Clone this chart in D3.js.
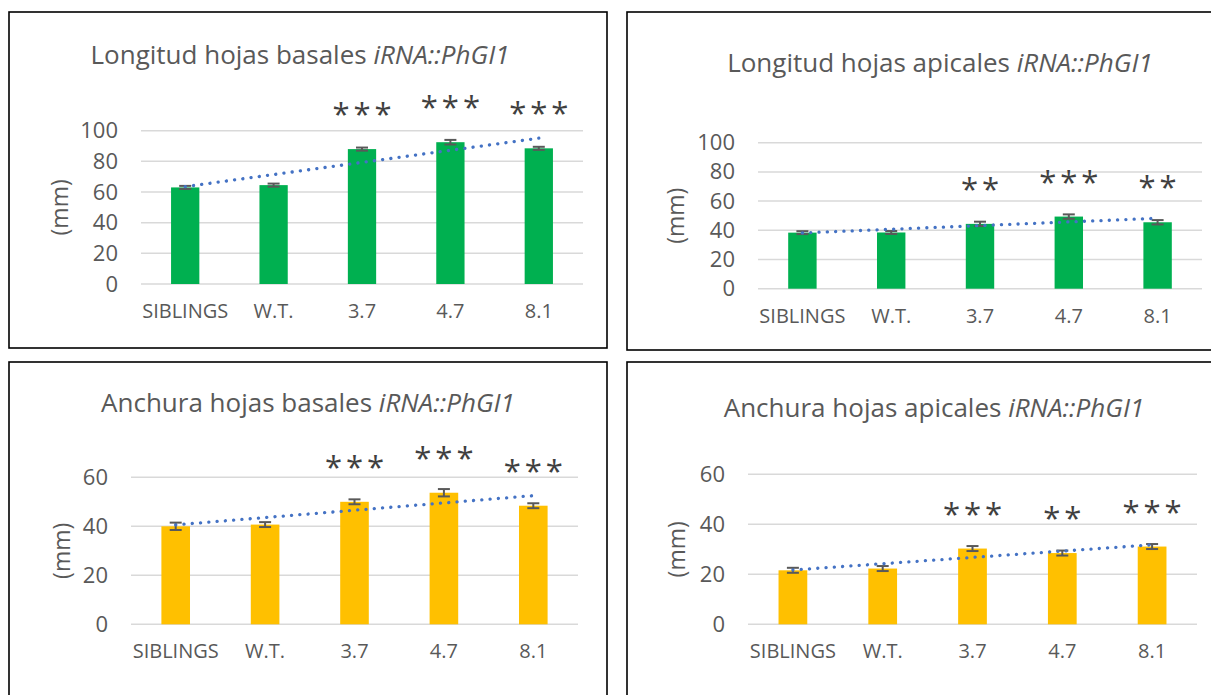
<!DOCTYPE html>
<meta charset="utf-8">
<head>
<style>
body { margin: 0; background: #fff; }
svg { display: block; font-family: "Open Sans", sans-serif; }
</style>
<script src="https://d3js.org/d3.v7.min.js"></script>
</head>
<body>
<div id="chart"></div>
<script>
var width = 1211,
    height = 695;

// data
var categories = ["SIBLINGS", "W.T.", "3.7", "4.7", "8.1"];

var longBasal = [63, 64.5, 88, 92.5, 88.5];
var longBasalErr = [1, 1, 1, 1.5, 1];
var longBasalStars = ["", "", "***", "***", "***"];

var longApical = [38.4, 38.5, 44.4, 49.4, 45.5];
var longApicalErr = [1, 1, 1.5, 1.5, 1.5];
var longApicalStars = ["", "", "**", "***", "**"];

var anchBasal = [40, 40.7, 50, 53.7, 48.4];
var anchBasalErr = [1.5, 1, 1, 1.5, 1];
var anchBasalStars = ["", "", "***", "***", "***"];

var anchApical = [21.6, 22.3, 30.3, 28.5, 31.1];
var anchApicalErr = [1, 1, 1, 1, 1];
var anchApicalStars = ["", "", "***", "**", "***"];

var yTicksLong = [0, 20, 40, 60, 80, 100];
var yTicksAnch = [0, 20, 40, 60];

var green = "#00b050",
    yellow = "#ffc000";

// one entry per panel
var panels = [
  {title: "Longitud hojas basales ", values: longBasal, err: longBasalErr, stars: longBasalStars,
   ticks: yTicksLong, color: green, box: [9, 12, 607, 348], plot: [141, 583, 130.7, 284], titleX: 300, titleY: 55, labelX: 60},
  {title: "Longitud hojas apicales ", values: longApical, err: longApicalErr, stars: longApicalStars,
   ticks: yTicksLong, color: green, box: [627, 12, 1214, 350], plot: [758, 1202, 142.7, 288.7], titleX: 940, titleY: 62.7, labelX: 676},
  {title: "Anchura hojas basales ", values: anchBasal, err: anchBasalErr, stars: anchBasalStars,
   ticks: yTicksAnch, color: yellow, box: [9, 362, 607, 705], plot: [131, 578, 477.3, 624.3], titleX: 308, titleY: 402.7, labelX: 61.5},
  {title: "Anchura hojas apicales ", values: anchApical, err: anchApicalErr, stars: anchApicalStars,
   ticks: yTicksAnch, color: yellow, box: [627, 362, 1214, 705], plot: [748, 1197, 474.3, 624.3], titleX: 934, titleY: 407.7, labelX: 677}
];

var svg = d3.select("#chart").append("svg")
    .attr("width", width)
    .attr("height", height);

panels.forEach(function(p) {
  var g = svg.append("g");
  var b = p.box;

  g.append("rect")
      .attr("x", b[0]).attr("y", b[1])
      .attr("width", b[2] - b[0]).attr("height", b[3] - b[1])
      .attr("fill", "#fff").attr("stroke", "#000").attr("stroke-width", 1.6);

  var x = d3.scaleBand()
      .domain(categories)
      .range([p.plot[0], p.plot[1]])
      .paddingInner(0.68)
      .paddingOuter(0.34);

  var y = d3.scaleLinear()
      .domain([0, d3.max(p.ticks)])
      .range([p.plot[3], p.plot[2]]);

  // gridlines
  g.selectAll(".grid").data(p.ticks).enter().append("line")
      .attr("x1", p.plot[0]).attr("x2", p.plot[1])
      .attr("y1", function(d) { return y(d); })
      .attr("y2", function(d) { return y(d); })
      .attr("stroke", "#d9d9d9").attr("stroke-width", 1.5);

  // y tick labels
  var yAxis = d3.axisLeft(y).tickValues(p.ticks).tickSize(0).tickPadding(23);
  var ya = g.append("g").attr("transform", "translate(" + p.plot[0] + ",0)").call(yAxis);
  ya.select(".domain").remove();
  ya.selectAll("text").attr("fill", "#595959").attr("font-size", 22)
      .attr("font-family", "Open Sans, sans-serif");

  // x labels
  var xAxis = d3.axisBottom(x).tickSize(0).tickPadding(20);
  var xa = g.append("g").attr("transform", "translate(0," + p.plot[3] + ")").call(xAxis);
  xa.select(".domain").remove();
  xa.selectAll("text").attr("fill", "#595959").attr("font-size", 20)
      .attr("font-family", "Open Sans, sans-serif");

  // bars
  g.selectAll(".bar").data(p.values).enter().append("rect")
      .attr("x", function(d, i) { return x(categories[i]); })
      .attr("y", function(d) { return y(d); })
      .attr("width", x.bandwidth())
      .attr("height", function(d) { return y(0) - y(d); })
      .attr("fill", p.color);

  // error bars
  var cx = function(i) { return x(categories[i]) + x.bandwidth() / 2; };
  p.values.forEach(function(v, i) {
    var e = p.err[i];
    var eg = g.append("g").attr("stroke", "#595959").attr("stroke-width", 2);
    eg.append("line").attr("x1", cx(i)).attr("x2", cx(i))
        .attr("y1", y(v - e)).attr("y2", y(v + e));
    eg.append("line").attr("x1", cx(i) - 6).attr("x2", cx(i) + 6)
        .attr("y1", y(v + e)).attr("y2", y(v + e));
    eg.append("line").attr("x1", cx(i) - 6).attr("x2", cx(i) + 6)
        .attr("y1", y(v - e)).attr("y2", y(v - e));
  });

  // linear trendline (least squares, like Excel)
  var n = p.values.length;
  var mx = (n + 1) / 2, my = d3.mean(p.values);
  var sxy = 0, sxx = 0;
  p.values.forEach(function(v, i) { sxy += (i + 1 - mx) * (v - my); sxx += (i + 1 - mx) * (i + 1 - mx); });
  var slope = sxy / sxx, icpt = my - slope * mx;
  g.append("line")
      .attr("x1", cx(0)).attr("y1", y(icpt + slope))
      .attr("x2", cx(n - 1)).attr("y2", y(icpt + slope * n))
      .attr("stroke", "#4472c4").attr("stroke-width", 3.3)
      .attr("stroke-linecap", "round").attr("stroke-dasharray", "0.1 8.2");

  // significance stars
  g.selectAll(".star").data(p.stars).enter().append("text")
      .attr("x", function(d, i) { return cx(i) + 2; })
      .attr("y", function(d, i) { return y(p.values[i]) - 40 + 16; })
      .attr("text-anchor", "middle")
      .attr("font-size", 31)
      .attr("letter-spacing", 4)
      .attr("fill", "#404040")
      .text(function(d) { return d; });

  // title
  var t = g.append("text")
      .attr("x", p.titleX).attr("y", p.titleY + 9)
      .attr("text-anchor", "middle")
      .attr("font-size", 26)
      .attr("fill", "#595959");
  t.append("tspan").text(p.title);
  t.append("tspan").attr("font-style", "italic").text("iRNA::PhGI1");

  // y label
  g.append("text")
      .attr("transform", "translate(" + (p.labelX + 8) + "," + ((p.plot[2] + p.plot[3]) / 2) + ") rotate(-90)")
      .attr("text-anchor", "middle")
      .attr("font-size", 23)
      .attr("fill", "#595959")
      .text("(mm)");
});
</script>
</body>
